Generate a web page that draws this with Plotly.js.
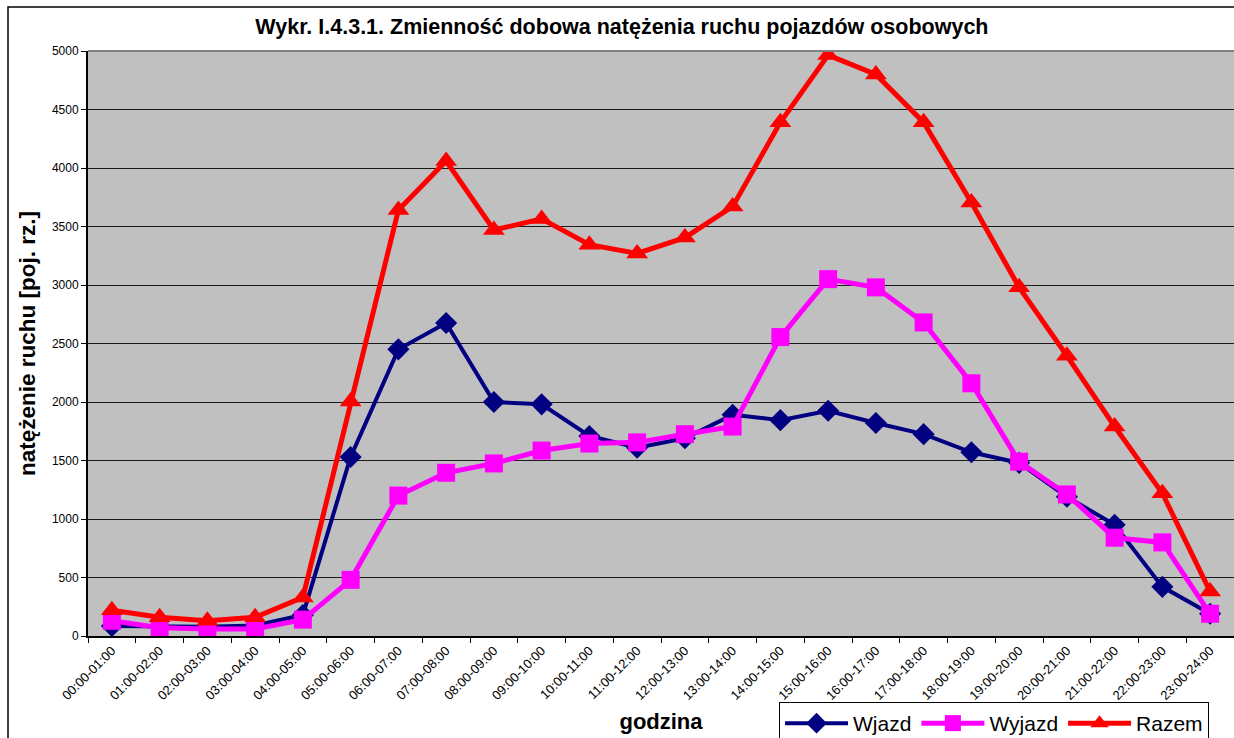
<!DOCTYPE html>
<html>
<head>
<meta charset="utf-8">
<script src="https://cdn.plot.ly/plotly-3.0.1.min.js"></script>
<style>
html,body{margin:0;padding:0;background:#fff;}
#chart{width:1234px;height:738px;}
</style>
</head>
<body>
<div id="chart"></div>
<script>
const categories = ["00:00-01:00","01:00-02:00","02:00-03:00","03:00-04:00","04:00-05:00","05:00-06:00","06:00-07:00","07:00-08:00","08:00-09:00","09:00-10:00","10:00-11:00","11:00-12:00","12:00-13:00","13:00-14:00","14:00-15:00","15:00-16:00","16:00-17:00","17:00-18:00","18:00-19:00","19:00-20:00","20:00-21:00","21:00-22:00","22:00-23:00","23:00-24:00"];
const wjazd  = [85, 80, 80, 90, 180, 1530, 2450, 2675, 2000, 1980, 1710, 1610, 1690, 1890, 1845, 1925, 1820, 1725, 1570, 1480, 1190, 950, 420, 190];
const wyjazd = [130, 70, 60, 60, 140, 480, 1200, 1395, 1475, 1585, 1645, 1655, 1725, 1790, 2555, 3050, 2980, 2680, 2160, 1490, 1210, 840, 800, 190];
const razem  = [220, 160, 130, 160, 330, 2005, 3640, 4060, 3470, 3565, 3345, 3270, 3405, 3670, 4390, 4965, 4800, 4390, 3705, 2980, 2395, 1790, 1220, 380];
const yTicks = [0, 500, 1000, 1500, 2000, 2500, 3000, 3500, 4000, 4500, 5000];

const FONT = "Arial, 'Liberation Sans', sans-serif";

const traces = [
  {x: categories, y: wjazd, name: "Wjazd", type: "scatter", mode: "lines+markers",
   line: {color: "#000080", width: 4},
   marker: {symbol: "diamond", size: 17, color: "#000080"}},
  {x: categories, y: wyjazd, name: "Wyjazd", type: "scatter", mode: "lines+markers",
   line: {color: "#FF00FF", width: 5},
   marker: {symbol: "square", size: 18, color: "#FF00FF"}},
  {x: categories, y: razem, name: "Razem", type: "scatter", mode: "lines+markers",
   line: {color: "#FF0000", width: 5},
   marker: {symbol: "triangle-up", size: 19, color: "#FF0000"}}
];

const layout = {
  width: 1234, height: 738,
  margin: {l: 88, r: 0, t: 51, b: 102, pad: 0, autoexpand: false},
  paper_bgcolor: "#FFFFFF",
  plot_bgcolor: "#C0C0C0",
  font: {family: FONT, color: "#000"},
  title: {text: "<b>Wykr. I.4.3.1. Zmienność dobowa natężenia ruchu pojazdów osobowych</b>",
          font: {family: FONT, size: 21.5, color: "#000"},
          x: 0.504, xanchor: "center", y: 0.964, yanchor: "middle", xref: "container", yref: "container"},
  xaxis: {
    type: "category",
    range: [-0.5, 23.5],
    automargin: false,
    tickangle: -45,
    tickson: "boundaries",
    ticks: "outside", ticklen: 5, tickcolor: "#000", tickwidth: 1,
    tickfont: {family: FONT, size: 13, color: "#000"},
    showline: true, linecolor: "#000", linewidth: 2,
    showgrid: false, zeroline: false,
    title: {text: "<b>godzina</b>", font: {family: FONT, size: 22, color: "#000"}, standoff: 12},
    fixedrange: true
  },
  yaxis: {
    range: [0, 5000],
    automargin: false,
    tickvals: yTicks,
    ticktext: yTicks.map(String),
    ticks: "outside", ticklen: 5, tickcolor: "#000", tickwidth: 1,
    tickfont: {family: FONT, size: 12, color: "#000"},
    showline: true, linecolor: "#000", linewidth: 2,
    showgrid: true, gridcolor: "#1a1a1a", gridwidth: 1,
    zeroline: false,
    title: {text: "<b>natężenie ruchu [poj. rz.]</b>", font: {family: FONT, size: 22.5, color: "#000"}, standoff: 10},
    fixedrange: true
  },
  showlegend: true,
  legend: {
    orientation: "h",
    x: 0.603, xanchor: "left",
    y: -0.1128, yanchor: "top",
    bgcolor: "#FFFFFF", bordercolor: "#000", borderwidth: 1,
    font: {family: FONT, size: 21, color: "#000"},
    itemwidth: 63,
    traceorder: "normal"
  },
  shapes: [
    {type: "rect", xref: "paper", yref: "paper",
     x0: -0.0698, x1: 1.02, y0: -0.3, y1: 1.0752,
     line: {color: "#000", width: 1.5}, fillcolor: "rgba(0,0,0,0)", layer: "below"},
    {type: "line", xref: "paper", yref: "paper", x0: 0, x1: 1, y0: 1, y1: 1,
     line: {color: "#808080", width: 2}}
  ]
};

Plotly.newPlot("chart", traces, layout, {displayModeBar: false, staticPlot: true});
</script>
</body>
</html>
